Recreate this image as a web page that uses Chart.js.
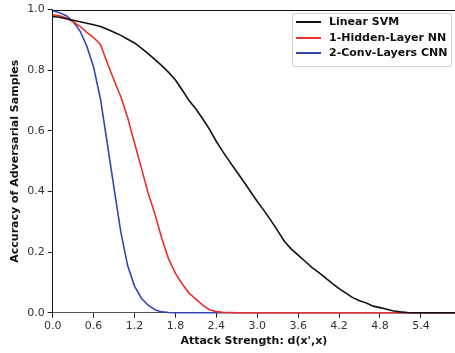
<!DOCTYPE html>
<html>
<head>
<meta charset="utf-8">
<script src="https://cdn.jsdelivr.net/npm/chart.js@4/dist/chart.umd.min.js"></script>
<style>
  html, body { margin: 0; padding: 0; background: #fff; overflow: hidden; }
  #wrap { position: relative; width: 455px; height: 353px; }
  #legend { position: absolute; left: 292px; top: 13px; width: 158px; height: 52px;
    border: 1px solid #d0d0d0; border-radius: 3px; background: rgba(255,255,255,0.85);
    font-family: "DejaVu Sans", sans-serif; font-weight: bold; font-size: 11px; color: #111; }
  .row { position: absolute; left: 0; height: 14px; line-height: 14px; white-space: nowrap; }
  .sw { position: absolute; left: 3px; top: 6px; width: 25px; height: 2px; }
  .lb { position: absolute; left: 36px; top: 0; }
</style>
</head>
<body>
<div id="wrap">
  <canvas id="c" width="455" height="353"></canvas>
  <div id="legend"></div>
</div>
<script>
// Attack strength grid (x values)
const attackStrength = [0.0,0.1,0.2,0.3,0.4,0.5,0.6,0.7,0.8,0.9,1.0,1.1,1.2,1.3,1.4,1.5,1.6,1.7,1.8,1.9,2.0,2.1,2.2,2.3,2.4,2.5,2.6,2.7,2.8,2.9,3.0,3.1,3.2,3.3,3.4,3.5,3.6,3.7,3.8,3.9,4.0,4.1,4.2,4.3,4.4,4.5,4.6,4.7,4.8,4.9,5.0,5.1,5.2,5.3,5.4,5.5,5.6,5.7,5.8,5.9];

const linearSVM = [0.977,0.975,0.970,0.965,0.960,0.955,0.950,0.944,0.935,0.925,0.915,0.902,0.890,0.873,0.855,0.835,0.815,0.793,0.768,0.735,0.700,0.672,0.640,0.605,0.565,0.530,0.497,0.465,0.433,0.400,0.367,0.337,0.305,0.270,0.235,0.210,0.190,0.170,0.150,0.133,0.115,0.097,0.080,0.065,0.050,0.040,0.032,0.022,0.017,0.012,0.006,0.003,0.001,0,0,0,0,0,0,0];

const hiddenLayerNN = [0.983,0.980,0.972,0.960,0.945,0.925,0.908,0.885,0.825,0.767,0.712,0.643,0.560,0.478,0.395,0.325,0.245,0.178,0.130,0.095,0.065,0.045,0.025,0.010,0.004,0.002,0.001,0,0,0,0,0,0,0,0,0,0,0,0,0,0,0,0,0,0,0,0,0,0,0,0,0,0,0,0,0,0,0,0,0];

const convCNN = [0.996,0.990,0.980,0.960,0.930,0.880,0.810,0.706,0.560,0.410,0.265,0.155,0.088,0.048,0.025,0.010,0.003,0.001,0,0,0,0,0,0,0,0,0,0,0,0,0,0,0,0,0,0,0,0,0,0,0,0,0,0,0,0,0,0,0,0,0,0,0,0,0,0,0,0,0,0];

const seriesNames = ["Linear SVM", "1-Hidden-Layer NN", "2-Conv-Layers CNN"];
const seriesColors = ["#111111", "#e8312a", "#3346b4"];
const seriesValues = [linearSVM, hiddenLayerNN, convCNN];

const xTitle = "Attack Strength: d(x',x)";
const yTitle = "Accuracy of Adversarial Samples";

const datasets = seriesValues.map((vals, i) => ({
  label: seriesNames[i],
  data: attackStrength.map((x, j) => ({x: x, y: vals[j]})),
  borderColor: seriesColors[i],
  borderWidth: 1.6,
  pointRadius: 0,
  tension: 0,
  fill: false,
  clip: false
}));

// legend (real text)
const lg = document.getElementById('legend');
seriesNames.forEach((n, i) => {
  const r = document.createElement('div');
  r.className = 'row';
  r.style.top = (1 + i * 15.5) + 'px';
  r.style.width = '100%';
  r.innerHTML = '<span class="sw" style="background:' + seriesColors[i] + '"></span><span class="lb"></span>';
  r.querySelector('.lb').textContent = n;
  lg.appendChild(r);
});

const topSpine = {
  id: 'topSpine',
  afterDraw(chart) {
    const {ctx, chartArea} = chart;
    ctx.save();
    ctx.strokeStyle = '#111';
    ctx.lineWidth = 1;
    ctx.beginPath();
    ctx.moveTo(chartArea.left, Math.round(chartArea.top) + 0.5);
    ctx.lineTo(chartArea.right, Math.round(chartArea.top) + 0.5);
    ctx.stroke();
    ctx.restore();
  }
};

new Chart(document.getElementById('c'), {
  type: 'line',
  data: { datasets },
  options: {
    responsive: false,
    animation: false,
    layout: { padding: { left: 4, right: 0, top: 0, bottom: 0 } },
    plugins: { legend: { display: false }, tooltip: { enabled: false } },
    scales: {
      x: {
        type: 'linear',
        min: 0, max: 5.9,
        ticks: {
          stepSize: 0.6, includeBounds: false, maxRotation: 0, padding: 3,
          color: '#333', font: { family: 'DejaVu Sans', size: 11, lineHeight: 1.0 },
          callback: v => Number(v).toFixed(1)
        },
        grid: { drawOnChartArea: false, tickLength: 5, color: '#222', tickWidth: 1 },
        border: { display: true, color: '#555', width: 1 },
        title: { display: true, text: xTitle, color: '#111',
          font: { family: 'DejaVu Sans', size: 11, weight: 'bold' },
          padding: { top: 0, bottom: 5 } }
      },
      y: {
        min: 0, max: 1,
        ticks: {
          stepSize: 0.2, padding: 3, color: '#333',
          font: { family: 'DejaVu Sans', size: 11 },
          callback: v => Number(v).toFixed(1)
        },
        grid: { drawOnChartArea: false, tickLength: 5, color: '#222', tickWidth: 1 },
        border: { display: true, color: '#111', width: 1 },
        title: { display: true, text: yTitle, color: '#111',
          font: { family: 'DejaVu Sans', size: 11, weight: 'bold' },
          padding: { top: 5, bottom: 2 } }
      }
    }
  },
  plugins: [topSpine]
});
</script>
</body>
</html>
